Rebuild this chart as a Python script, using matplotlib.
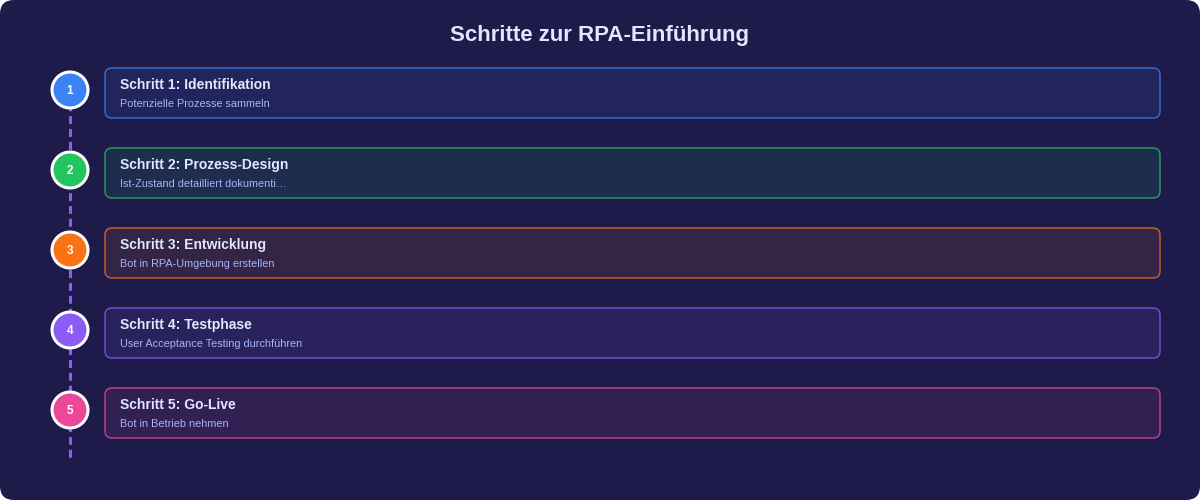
import matplotlib
matplotlib.use("Agg")
import matplotlib.pyplot as plt
from matplotlib.patches import FancyBboxPatch, Circle
from matplotlib.colors import to_rgb

plt.rcParams['font.family'] = ['Liberation Sans', 'DejaVu Sans']

title = "Schritte zur RPA-Einführung"
numbers = ["1", "2", "3", "4", "5"]
step_titles = ["Schritt 1: Identifikation", "Schritt 2: Prozess-Design", "Schritt 3: Entwicklung",
               "Schritt 4: Testphase", "Schritt 5: Go-Live"]
descriptions = ["Potenzielle Prozesse sammeln", "Ist-Zustand detailliert dokumenti…",
                "Bot in RPA-Umgebung erstellen", "User Acceptance Testing durchführen",
                "Bot in Betrieb nehmen"]
colors = ["#3b82f6", "#22c55e", "#f97316", "#8b5cf6", "#ec4899"]

BG = "#1e1b4b"

def blend(c, a):
    c1, c2 = to_rgb(c), to_rgb(BG)
    return tuple(a * x + (1 - a) * y for x, y in zip(c1, c2))

fig = plt.figure(figsize=(12, 5), dpi=100)
fig.patch.set_facecolor("white")
ax = fig.add_axes([0, 0, 1, 1])
ax.set_xlim(0, 1200)
ax.set_ylim(500, 0)
ax.axis("off")

ax.add_patch(FancyBboxPatch((0, 0), 1200, 500, boxstyle="round,pad=0,rounding_size=14",
                            fc=BG, ec="none"))
ax.text(600, 35, title, ha="center", va="center", fontsize=16, fontweight="bold", color="#e0e7ff")

ax.plot([70, 70], [90, 460], color="#8b5cf6", lw=2.2, dashes=(2.6, 1.6), zorder=1)

for i, (n, t, d, c) in enumerate(zip(numbers, step_titles, descriptions, colors)):
    yc = 90 + 80 * i
    ax.add_patch(FancyBboxPatch((105, yc - 22), 1055, 50, boxstyle="round,pad=0,rounding_size=7",
                                fc=blend(c, 0.1), ec=blend(c, 0.75), lw=1.1, zorder=2))
    ax.add_patch(Circle((70, yc), 18, fc=c, ec="white", lw=2.2, zorder=3))
    ax.text(70, yc + 0.5, n, ha="center", va="center", fontsize=8.5, fontweight="bold",
            color="white", zorder=4)
    ax.text(120, yc - 5, t, ha="left", va="center", fontsize=10, fontweight="bold",
            color="#e0e7ff", zorder=4)
    ax.text(120, yc + 14, d, ha="left", va="center", fontsize=7.8, color="#a5b4fc", zorder=4)

fig.savefig("out.png", dpi=100, facecolor=fig.get_facecolor())
